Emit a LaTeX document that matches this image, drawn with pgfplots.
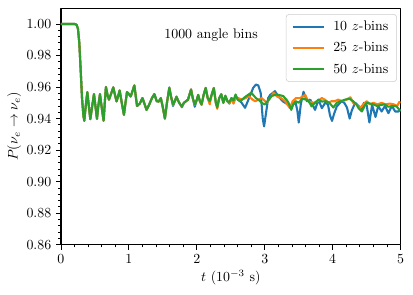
\documentclass[border=0pt]{standalone}
\usepackage{pgfplots}
\pgfplotsset{compat=1.18}
\definecolor{tabblue}{HTML}{1F77B4}
\definecolor{taborange}{HTML}{FF7F0E}
\definecolor{tabgreen}{HTML}{2CA02C}
\begin{document}
\begin{tikzpicture}
\begin{axis}[
  scale only axis,
  width=244.6pt, height=170.3pt,
  xmin=0, xmax=5, ymin=0.86, ymax=1.01,
  xtick={0,1,2,3,4,5},
  ytick={0.86,0.88,0.90,0.92,0.94,0.96,0.98,1.00},
  minor x tick num=4, minor y tick num=4,
  xtick pos=bottom, ytick pos=left,
  tick align=outside,
  major tick length=3.5pt, minor tick length=2pt,
  every tick/.style={black, line width=0.6pt},
  axis line style={line width=0.8pt},
  yticklabel style={/pgf/number format/.cd, fixed, fixed zerofill, precision=2},
  xlabel={$t$ ($10^{-3}$ s)},
  ylabel={$P(\nu_e\rightarrow\nu_e)$},
  xlabel style={yshift=2pt},
  ylabel style={yshift=-3pt},
  legend cell align=left,
  legend style={at={(1,1)}, anchor=north east, xshift=-2.7pt, yshift=-4.3pt,
    draw=black!20, rounded corners=2pt, fill=white, fill opacity=0.8, text opacity=1,
    inner xsep=4pt, inner ysep=2.5pt, row sep=3pt,
    /tikz/every odd column/.append style={column sep=4pt}},
  legend image code/.code={\draw[#1] (0pt,0pt) -- (22.5pt,0pt);},
  line join=round,
]
\addplot[tabblue, line width=1.5pt] coordinates {
(0,1.000)(0.1,1.000)(0.2,1.000)(0.23,0.9995)(0.25,0.997)(0.27,0.988)(0.29,0.971)(0.31,0.953)(0.33,0.942)(0.343,0.9386)
(0.365,0.948)(0.388,0.9568)(0.41,0.948)(0.432,0.9396)(0.46,0.948)(0.486,0.9555)(0.51,0.947)(0.53,0.9398)(0.55,0.948)(0.574,0.9555)
(0.60,0.947)(0.628,0.9386)(0.645,0.950)(0.662,0.960)(0.685,0.955)(0.707,0.952)(0.74,0.956)(0.770,0.9598)(0.795,0.955)(0.819,0.9509)
(0.84,0.954)(0.864,0.9578)(0.895,0.950)(0.927,0.9424)(0.95,0.950)(0.972,0.9568)(1.0,0.9555)(1.026,0.954)(1.05,0.957)(1.08,0.961)
(1.12,0.948)(1.16,0.9495)(1.20,0.953)(1.26,0.9455)(1.30,0.949)(1.34,0.953)(1.375,0.9555)(1.41,0.951)(1.44,0.9508)(1.47,0.953)
(1.50,0.947)(1.53,0.940)(1.56,0.950)(1.595,0.9598)
(1.625,0.953)(1.65,0.9480)(1.675,0.951)(1.70,0.9540)(1.74,0.950)(1.78,0.9472)(1.81,0.950)(1.84,0.951)(1.87,0.952)(1.915,0.9585)
(1.94,0.953)(1.97,0.9475)(2.00,0.952)(2.02,0.955)(2.045,0.951)(2.07,0.9487)(2.10,0.955)(2.13,0.9595)(2.16,0.953)(2.19,0.951)
(2.22,0.9553)(2.25,0.9592)(2.28,0.950)(2.30,0.9475)(2.33,0.953)(2.36,0.9555)(2.39,0.950)(2.42,0.9540)(2.45,0.951)(2.48,0.9495)
(2.51,0.953)(2.54,0.951)(2.57,0.9545)
(2.61,0.952)(2.66,0.950)(2.71,0.9468)(2.75,0.951)(2.83,0.9595)(2.87,0.9616)(2.905,0.961)(2.94,0.9563)(2.97,0.940)(2.99,0.935)
(3.02,0.944)(3.05,0.953)(3.08,0.955)(3.15,0.9574)(3.20,0.954)(3.27,0.9508)(3.35,0.9487)(3.39,0.9475)(3.45,0.9508)(3.48,0.945)
(3.50,0.9375)(3.53,0.949)(3.57,0.957)(3.62,0.951)(3.67,0.952)(3.74,0.9455)(3.79,0.952)(3.84,0.9466)(3.89,0.950)(3.93,0.949)
(3.96,0.942)(3.99,0.9385)(4.02,0.943)(4.06,0.9477)(4.13,0.951)(4.17,0.950)(4.21,0.947)(4.25,0.940)(4.28,0.945)(4.33,0.950)
(4.38,0.948)(4.43,0.9455)(4.46,0.950)(4.50,0.9485)(4.54,0.9375)(4.58,0.9487)(4.63,0.941)(4.67,0.948)(4.72,0.9445)(4.77,0.948)
(4.82,0.9434)(4.87,0.948)(4.92,0.9445)(4.97,0.9445)(5.0,0.946)
};
\addlegendentry{10 $z$-bins}
\addplot[taborange, line width=1.5pt] coordinates {
(0,1.000)(0.1,1.000)(0.2,1.000)(0.23,0.9995)(0.25,0.997)(0.27,0.988)(0.29,0.971)(0.31,0.953)(0.33,0.942)(0.343,0.9386)
(0.365,0.948)(0.388,0.9568)(0.41,0.948)(0.432,0.9396)(0.46,0.948)(0.486,0.9555)(0.51,0.947)(0.53,0.9398)(0.55,0.948)(0.574,0.9555)
(0.60,0.947)(0.628,0.9386)(0.645,0.950)(0.662,0.960)(0.685,0.955)(0.707,0.952)(0.74,0.956)(0.770,0.9598)(0.795,0.955)(0.819,0.9509)
(0.84,0.954)(0.864,0.9578)(0.895,0.950)(0.927,0.9424)(0.95,0.950)(0.972,0.9568)(1.0,0.9555)(1.026,0.954)(1.05,0.957)(1.08,0.961)
(1.12,0.948)(1.16,0.9495)(1.20,0.953)(1.26,0.9455)(1.30,0.949)(1.34,0.953)(1.375,0.9555)(1.41,0.951)(1.44,0.9508)(1.47,0.953)
(1.50,0.947)(1.53,0.940)(1.56,0.950)(1.595,0.9595)
(1.625,0.953)(1.65,0.9487)(1.675,0.951)(1.70,0.9536)(1.74,0.950)(1.78,0.9476)(1.81,0.950)(1.84,0.951)(1.87,0.952)(1.915,0.9585)
(1.94,0.953)(1.97,0.9487)(2.00,0.952)(2.02,0.955)(2.045,0.951)(2.07,0.9487)(2.10,0.955)(2.13,0.9595)(2.16,0.953)(2.19,0.9490)
(2.22,0.9553)(2.25,0.9595)(2.28,0.950)(2.30,0.9462)(2.33,0.953)(2.36,0.9555)(2.39,0.950)(2.42,0.9545)(2.45,0.951)(2.48,0.950)
(2.51,0.952)(2.54,0.9495)(2.57,0.953)
(2.61,0.953)(2.66,0.952)(2.72,0.953)(2.76,0.9543)(2.82,0.952)(2.86,0.951)(2.91,0.952)(2.955,0.953)(3.03,0.950)(3.08,0.953)
(3.13,0.9564)(3.18,0.954)(3.24,0.953)(3.30,0.951)(3.37,0.9466)(3.41,0.951)(3.46,0.953)(3.52,0.953)(3.595,0.955)(3.64,0.951)
(3.72,0.950)(3.78,0.951)(3.84,0.953)(3.89,0.9518)(3.94,0.950)(3.98,0.951)(4.03,0.951)(4.08,0.952)(4.14,0.951)(4.20,0.952)
(4.26,0.9535)(4.30,0.950)(4.35,0.949)(4.40,0.9466)(4.45,0.949)(4.50,0.951)(4.55,0.949)(4.60,0.950)(4.66,0.949)(4.72,0.950)
(4.78,0.949)(4.84,0.9495)(4.90,0.949)(4.95,0.948)(4.98,0.9505)(5.0,0.950)
};
\addlegendentry{25 $z$-bins}
\addplot[tabgreen, line width=1.5pt] coordinates {
(0,1.000)(0.1,1.000)(0.2,1.000)(0.23,0.9995)(0.25,0.997)(0.27,0.988)(0.29,0.971)(0.31,0.953)(0.33,0.942)(0.343,0.9386)
(0.365,0.948)(0.388,0.9568)(0.41,0.948)(0.432,0.9396)(0.46,0.948)(0.486,0.9555)(0.51,0.947)(0.53,0.9398)(0.55,0.948)(0.574,0.9555)
(0.60,0.947)(0.628,0.9386)(0.645,0.950)(0.662,0.960)(0.685,0.955)(0.707,0.952)(0.74,0.956)(0.770,0.9598)(0.795,0.955)(0.819,0.9509)
(0.84,0.954)(0.864,0.9578)(0.895,0.950)(0.927,0.9424)(0.95,0.950)(0.972,0.9568)(1.0,0.9555)(1.026,0.954)(1.05,0.957)(1.08,0.961)
(1.12,0.948)(1.16,0.9495)(1.20,0.953)(1.26,0.9455)(1.30,0.949)(1.34,0.953)(1.375,0.9555)(1.41,0.951)(1.44,0.9508)(1.47,0.953)
(1.50,0.947)(1.53,0.940)(1.56,0.950)(1.595,0.9593)
(1.625,0.953)(1.65,0.9490)(1.675,0.951)(1.70,0.9536)(1.74,0.950)(1.78,0.9478)(1.81,0.950)(1.84,0.951)(1.87,0.952)(1.915,0.9583)
(1.94,0.953)(1.97,0.9490)(2.00,0.952)(2.02,0.955)(2.045,0.951)(2.07,0.9490)(2.10,0.955)(2.13,0.9593)(2.16,0.953)(2.19,0.951)
(2.22,0.9553)(2.25,0.9593)(2.28,0.950)(2.30,0.9470)(2.33,0.953)(2.36,0.9553)(2.39,0.950)(2.42,0.9545)(2.45,0.951)(2.48,0.9505)
(2.51,0.953)(2.54,0.9515)(2.57,0.9553)
(2.60,0.952)(2.64,0.951)(2.69,0.953)(2.73,0.9543)(2.80,0.9564)(2.87,0.9530)(2.92,0.9515)(2.955,0.950)(3.0,0.9489)(3.05,0.9515)
(3.10,0.9543)(3.175,0.9553)(3.27,0.9543)(3.32,0.952)(3.35,0.950)(3.39,0.9455)(3.42,0.949)(3.46,0.951)(3.50,0.950)(3.55,0.9525)
(3.62,0.952)(3.66,0.950)(3.69,0.9477)(3.74,0.950)(3.79,0.952)(3.84,0.9508)(3.90,0.951)(3.95,0.950)(4.01,0.9470)(4.06,0.950)
(4.12,0.951)(4.18,0.952)(4.25,0.9525)(4.30,0.951)(4.35,0.949)(4.38,0.9466)(4.43,0.9445)(4.47,0.948)(4.50,0.950)(4.55,0.9495)
(4.60,0.949)(4.65,0.948)(4.70,0.9485)(4.76,0.949)(4.82,0.9475)(4.88,0.948)(4.94,0.9477)(5.0,0.9446)
};
\addlegendentry{50 $z$-bins}
\node at (axis cs:2.21,0.9932) {1000 angle bins};
\coordinate (SW) at (rel axis cs:0,0);
\end{axis}
\pgfresetboundingbox
\path (SW) ++(-43.9pt,-36.2pt) rectangle ++(297.4pt,212.4pt);
\end{tikzpicture}
\end{document}
